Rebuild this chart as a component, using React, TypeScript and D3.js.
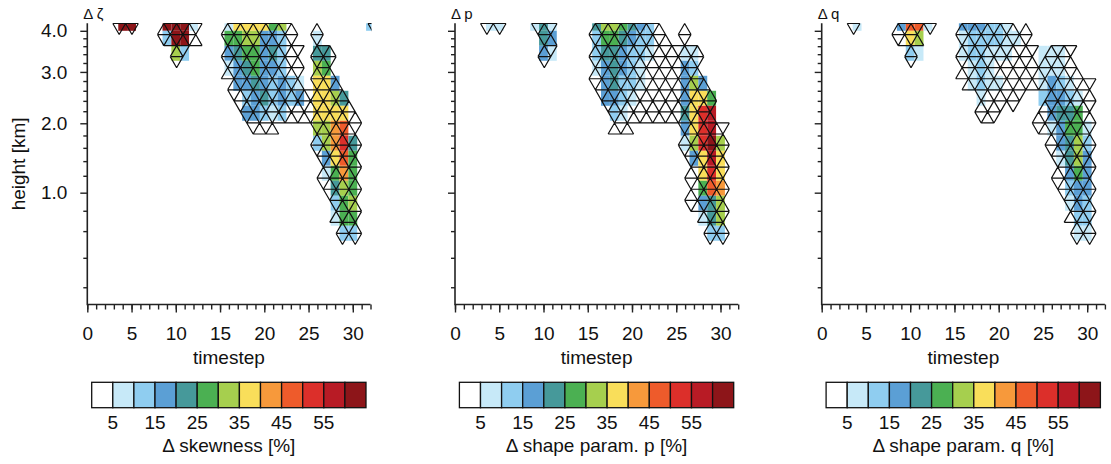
import React, { useEffect, useRef } from "react";
import * as d3 from "d3";

// ---------------- data ----------------
const timestepMajorTicks = [0, 5, 10, 15, 20, 25, 30];
const timestepMinorTicks = [0, 1, 2, 3, 4, 5, 6, 7, 8, 9, 10, 11, 12, 13, 14, 15, 16, 17, 18, 19, 20, 21, 22, 23, 24, 25, 26, 27, 28, 29, 30, 31, 32];
// height (km) of the model levels, top level first
const levelHeightsKm = [4.2, 3.8, 3.42, 3.08, 2.75, 2.45, 2.16, 1.92, 1.67, 1.44, 1.23, 1.05, 0.88, 0.72, 0.58, 0.47, 0.36, 0.26, 0.16];
const heightMajorTicks = [1.0, 2.0, 3.0, 4.0];
const heightMinorTicks = [0.2, 0.4, 0.6, 0.8, 1.2, 1.4, 1.6, 1.8, 2.2, 2.4, 2.6, 2.8, 3.2, 3.4, 3.6, 3.8];
const contourLevels = [5, 10, 15, 20, 25, 30, 35, 40, 45, 50, 55, 60];
const colorbarLabels = [5, 15, 25, 35, 45, 55];
const fillColors = ["#ffffff", "#c7e9f8", "#8fcdf0", "#5b9fd5", "#46999a", "#4bb052", "#a6cf4e", "#f9de5a", "#f7993b", "#ee5b2b", "#dc2f2a", "#b81b25", "#8d1519"];
const panelTitles = ["\u0394 \u03b6", "\u0394 p", "\u0394 q"];
const colorbarTitles = ["\u0394 skewness [%]", "\u0394 shape param. p [%]", "\u0394 shape param. q [%]"];

// class per cell: rows = levels (top first), columns = timestep 0..32
// '.' = no value, '0'..'9','a','b','c' = class k  (value between 5k and 5k+5 %)
const zetaClasses = [
  "....cc...ccc1...1777756.........2",
  ".........2cc....5566332...1......",
  "..........62....3455342...44.....",
  "................1345332...65.....",
  ".................33432321.773....",
  "..................2342323.7764...",
  "..................33212...7777...",
  "..........................6689...",
  "..........................268a4..",
  "...........................3795..",
  "...........................1585..",
  "............................465..",
  "............................256..",
  "............................155..",
  ".............................22..",
];
const zetaSignificant = [
  "....##...####...#######.........#",
  ".........####...########..#......",
  "..........##....#########.##.....",
  "................#########.##.....",
  ".................########.###....",
  ".................#############...",
  "..................#############..",
  "...................###....#####..",
  "..........................#####..",
  "...........................####..",
  "...........................####..",
  "...........................####..",
  "............................###..",
  "............................###..",
  ".............................##..",
];
const pClasses = [
  "....11...141....4665432..........",
  "..........43....2554322..........",
  "..........31....2443221...11.....",
  "................134321....32.....",
  ".................34221....363....",
  ".................3321.....3775...",
  "..................21......47ab...",
  "..........................37ab...",
  "..........................16ac6..",
  "...........................37b7..",
  "............................7a7..",
  "............................598..",
  "............................346..",
  "............................146..",
  ".............................22..",
];
const pSignificant = [
  "....##...###....#######..........",
  "..........##....#########.#......",
  "..........##....############.....",
  "................############.....",
  "................#############....",
  ".................#############...",
  "..................############...",
  "..................##......#####..",
  "..........................#####..",
  "...........................####..",
  "...........................####..",
  "...........................####..",
  "...........................####..",
  "............................###..",
  ".............................##..",
];
const qClasses = [
  "....1....3991...333221...........",
  "..........76....1222211..........",
  "..........21....122111...111.....",
  ".................121.....111.....",
  ".................1211....1321....",
  "..................1......23321...",
  "..........................3445...",
  "..........................13551..",
  "...........................3462..",
  "...........................1463..",
  "............................353..",
  "............................233..",
  "............................132..",
  ".............................22..",
  ".............................11..",
];
const qSignificant = [
  "....#....####...######...........",
  ".........###....########.........",
  "..........#.....#########.###....",
  "................##########.###...",
  ".................#########.####..",
  "..................#####...#####..",
  "..................##.....######..",
  ".........................######..",
  "..........................#####..",
  "...........................####..",
  "...........................####..",
  "...........................####..",
  "............................###..",
  "............................###..",
  ".............................##..",
];

const panels = [
  { classes: zetaClasses, significant: zetaSignificant },
  { classes: pClasses, significant: pSignificant },
  { classes: qClasses, significant: qSignificant },
];

const FONT = "'Liberation Sans', Arial, Helvetica, sans-serif";

function classValue(ch: string): number | null {
  if (ch === "." || ch === undefined) return null;
  return parseInt(ch, 13) * 5 + 2.5;
}

export default function App() {
  const ref = useRef<SVGSVGElement | null>(null);

  useEffect(() => {
    const svg = d3.select(ref.current);
    svg.selectAll("*").remove();

    const top = 23.3;
    const bottom = 304.5;
    const plotW = 283.2;
    const panelLeft = [87.3, 455, 821.7];

    const yLev = d3.scaleLinear().domain([0, 18.75]).range([top, bottom]);
    const asc = levelHeightsKm.map((h, i) => ({ h, i })).sort((a, b) => a.h - b.h);
    const yH = d3.scaleLinear().domain(asc.map((d) => d.h)).range(asc.map((d) => yLev(d.i)));
    const color = d3.scaleThreshold<number, string>().domain(contourLevels).range(fillColors);

    const defs = svg.append("defs");
    const HH = 11.05;
    const SS = (HH * 2) / Math.sqrt(3);

    panels.forEach((panel, p) => {
      const left = panelLeft[p];
      const x = d3.scaleLinear().domain([0, 32]).range([left, left + plotW]);
      const g = svg.append("g");

      defs
        .append("clipPath")
        .attr("id", `clip${p}`)
        .append("rect")
        .attr("x", left)
        .attr("y", top - 1)
        .attr("width", plotW + 1)
        .attr("height", bottom - top + 1);

      // cells
      const cells: { i: number; j: number; v: number }[] = [];
      panel.classes.forEach((row, i) => {
        for (let j = 0; j < row.length; j++) {
          const v = classValue(row[j]);
          if (v !== null && v >= contourLevels[0]) cells.push({ i, j, v });
        }
      });
      const cg = g.append("g").attr("clip-path", `url(#clip${p})`);
      cg.selectAll("rect")
        .data(cells)
        .join("rect")
        .attr("x", (d) => x(d.j - 0.5))
        .attr("y", (d) => Math.max(top, yLev(d.i - 0.5)))
        .attr("width", (d) => x(d.j + 0.5) - x(d.j - 0.5))
        .attr("height", (d) => yLev(d.i + 0.5) - Math.max(top, yLev(d.i - 0.5)))
        .attr("fill", (d) => color(d.v));

      // significance hatching: triangular lattice
      const isSig = (cx: number, cy: number) => {
        const j = Math.round(x.invert(cx));
        const i = Math.round(yLev.invert(cy));
        const row = panel.significant[i];
        return !!row && row[j] === "#";
      };
      const edges = new Map<string, string>();
      const addEdge = (x1: number, y1: number, x2: number, y2: number) => {
        const k = [x1, y1, x2, y2].map((v) => v.toFixed(2)).join(",");
        const k2 = [x2, y2, x1, y1].map((v) => v.toFixed(2)).join(",");
        if (edges.has(k) || edges.has(k2)) return;
        edges.set(k, `M${x1.toFixed(2)},${y1.toFixed(2)}L${x2.toFixed(2)},${y2.toFixed(2)}`);
      };
      const nRows = Math.ceil((bottom - top) / HH);
      for (let k = 0; k < nRows; k++) {
        const yt = top + 0.2 + k * HH;
        const yb = yt + HH;
        const off = ((k * SS) / 2) % SS;
        for (let m = -2; m * SS < plotW + 2 * SS; m++) {
          const xt = left + off + m * SS;
          if (isSig(xt, yt + (2 * HH) / 3)) {
            addEdge(xt, yt, xt - SS / 2, yb);
            addEdge(xt, yt, xt + SS / 2, yb);
            addEdge(xt - SS / 2, yb, xt + SS / 2, yb);
          }
          if (isSig(xt + SS / 2, yt + HH / 3)) {
            addEdge(xt, yt, xt + SS, yt);
            addEdge(xt, yt, xt + SS / 2, yb);
            addEdge(xt + SS, yt, xt + SS / 2, yb);
          }
        }
      }
      cg.append("path")
        .attr("d", Array.from(edges.values()).join(""))
        .attr("fill", "none")
        .attr("stroke", "#111")
        .attr("stroke-width", 1.2);

      // x axis
      const gx = g.append("g").attr("transform", `translate(0,${bottom})`);
      gx.append("g")
        .call(d3.axisBottom(x).tickValues(timestepMinorTicks).tickSize(5).tickSizeOuter(0).tickFormat(() => ""))
        .call((s) => s.select(".domain").remove());
      gx.append("g")
        .call(d3.axisBottom(x).tickValues(timestepMajorTicks).tickSize(8).tickSizeOuter(0).tickPadding(14).tickFormat(d3.format("d")))
        .call((s) => s.select(".domain").remove());
      gx.selectAll("line").attr("stroke", "#222").attr("stroke-width", 1.4);
      gx.selectAll("text").attr("font-size", 19).attr("font-family", FONT).attr("fill", "#111");

      // y axis
      const gy = g.append("g").attr("transform", `translate(${left},0)`);
      gy.append("g")
        .call(d3.axisLeft(yH).tickValues(heightMinorTicks).tickSize(4).tickSizeOuter(0).tickFormat(() => ""))
        .call((s) => s.select(".domain").remove());
      gy.append("g")
        .call(
          d3
            .axisLeft(yH)
            .tickValues(heightMajorTicks)
            .tickSize(7)
            .tickSizeOuter(0)
            .tickPadding(13)
            .tickFormat((d) => (p === 0 ? d3.format(".1f")(d as number) : ""))
        )
        .call((s) => s.select(".domain").remove());
      gy.selectAll("line").attr("stroke", "#222").attr("stroke-width", 1.4);
      gy.selectAll("text").attr("font-size", 19).attr("font-family", FONT).attr("fill", "#111");

      // axis lines
      g.append("path")
        .attr("d", `M${left},${top}L${left},${bottom}L${left + plotW},${bottom}`)
        .attr("fill", "none")
        .attr("stroke", "#222")
        .attr("stroke-width", 1.6);

      // labels
      g.append("text")
        .attr("x", x(16))
        .attr("y", 364)
        .attr("text-anchor", "middle")
        .attr("font-size", 19)
        .attr("font-family", FONT)
        .attr("fill", "#111")
        .text("timestep");
      g.append("text")
        .attr("x", left - 4)
        .attr("y", 19)
        .attr("font-size", 15)
        .attr("font-family", FONT)
        .attr("fill", "#111")
        .text(panelTitles[p]);
      if (p === 0) {
        g.append("text")
          .attr("transform", `translate(25,${(top + bottom) / 2}) rotate(-90)`)
          .attr("text-anchor", "middle")
          .attr("font-size", 19)
          .attr("font-family", FONT)
          .attr("fill", "#111")
          .text("height [km]");
      }

      // colorbar
      const cb = d3.scaleLinear().domain([0, fillColors.length]).range([left + 4.4, left + 4.4 + 274.3]);
      const cbTop = 382.3;
      const cbH = 25.4;
      g.append("g")
        .selectAll("rect")
        .data(fillColors)
        .join("rect")
        .attr("x", (_, k) => cb(k))
        .attr("y", cbTop)
        .attr("width", (_, k) => cb(k + 1) - cb(k))
        .attr("height", cbH)
        .attr("fill", (d) => d)
        .attr("stroke", "#111")
        .attr("stroke-width", 1.3);
      g.append("g")
        .selectAll("text")
        .data(colorbarLabels)
        .join("text")
        .attr("x", (d) => cb(contourLevels.indexOf(d) + 1))
        .attr("y", 429)
        .attr("text-anchor", "middle")
        .attr("font-size", 19)
        .attr("font-family", FONT)
        .attr("fill", "#111")
        .text((d) => String(d));
      g.append("text")
        .attr("x", cb(fillColors.length / 2))
        .attr("y", 452)
        .attr("text-anchor", "middle")
        .attr("font-size", 19)
        .attr("font-family", FONT)
        .attr("fill", "#111")
        .text(colorbarTitles[p]);
    });
  }, []);

  return (
    <svg
      ref={ref}
      width={1111}
      height={464}
      style={{ position: "absolute", left: 0, top: 0, background: "#fff" }}
    />
  );
}
